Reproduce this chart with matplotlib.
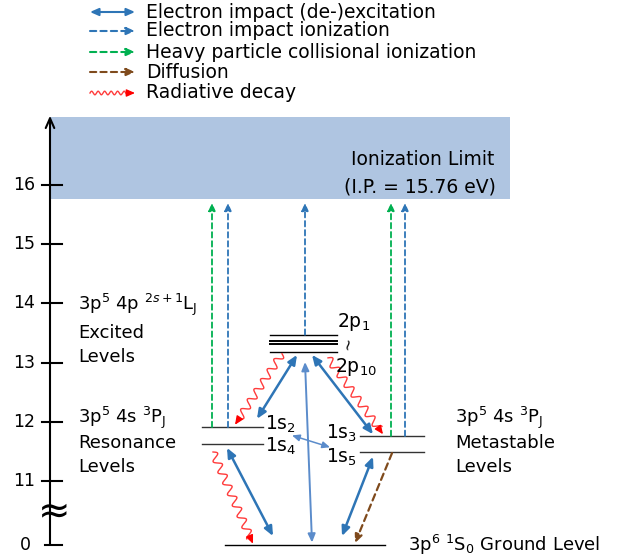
import numpy as np
import matplotlib.pyplot as plt
from matplotlib.patches import Rectangle

plt.rcParams['font.family'] = ['DejaVu Sans']
plt.rcParams['mathtext.fontset'] = 'dejavusans'

# ---- data (eV) ----
ion_limit = 15.76
band_top = 17.15
ground_pos = 9.92          # where 0 eV sits on the broken axis
tick_vals = [0, 11, 12, 13, 14, 15, 16]
p_levels = [13.47, 13.36, 13.32, 13.18]        # 2p1 ... 2p10
res_levels = [11.91, 11.63]                     # 1s2, 1s4
meta_levels = [11.76, 11.49]                    # 1s3, 1s5

# transitions: (x0, E0, x1, E1)
excitation = [(257, 12.05, 297, 13.13), (312, 13.13, 373, 11.79),
              (227, 11.56, 273, 0.15), (373, 11.41, 342, 0.15)]
excitation_thin = [(292, 11.77, 330, 11.57), (305, 13.01, 312, 0.04)]
e_ionization = [(228, 11.91, 228, 15.70), (305, 13.47, 305, 15.70),
                (405, 11.76, 405, 15.70)]
hp_ionization = [(212, 11.91, 212, 15.70), (391, 11.76, 391, 15.70)]
diffusion = [(392, 11.47, 355, 0.03)]
radiative = [(282, 13.15, 235, 11.95), (328, 13.08, 383, 11.79),
             (213, 11.49, 253, 0.02)]

BLUE = '#2e75b6'
LBLUE = '#5b8ccb'
GREEN = '#00b050'
BROWN = '#7f4a1c'
RED = '#ff0000'
S = 59.2   # px per eV


def ypos(e):
    return ground_pos + e if e < 5 else e


def row(py):
    return 16 + (185 - py) / S


fig = plt.figure(figsize=(6.22, 5.6), dpi=100)
ax = fig.add_axes([0, 0, 1, 1])
ax.set_xlim(0, 622)
ax.set_ylim(row(560), row(0))
ax.axis('off')


def arrow(x0, y0, x1, y1, color, style='-|>', lw=1.8, ls='-', ms=11):
    ax.annotate('', xy=(x1, y1), xytext=(x0, y0),
                arrowprops=dict(arrowstyle=style + ',head_length=0.5,head_width=0.22',
                                color=color, lw=lw, linestyle=ls,
                                shrinkA=0, shrinkB=0, mutation_scale=ms))


def wavy(x0, y0, x1, y1, amp=3.8, lam=12):
    p0 = np.array([x0, y0 * S])
    p1 = np.array([x1, y1 * S])
    d = p1 - p0
    L = np.hypot(*d)
    u = d / L
    n = np.array([-u[1], u[0]])
    t = np.linspace(0, L - 7, 300)
    pts = p0 + np.outer(t, u) + np.outer(amp * np.sin(2 * np.pi * t / lam), n)
    ax.plot(pts[:, 0], pts[:, 1] / S, color='#ff3b3b', lw=1)
    a = p0 + (L - 8) * u
    arrow(a[0], a[1] / S, x1, y1, RED, lw=1, ms=10)


# ionization band
ax.add_patch(Rectangle((50, ion_limit), 460, band_top - ion_limit,
                       facecolor='#afc5e1', edgecolor='none', zorder=0))

# energy axis
arrow(50, ground_pos, 50, 17.17, 'black', style='->', lw=1.5, ms=14)
for v in tick_vals:
    y = ypos(v)
    x0 = 45 if v == 0 else 42
    ax.plot([x0, 62], [y, y], color='black', lw=1.5)
    ax.text(31 if v == 0 else 35, y, str(v), ha='right', va='center', fontsize=12.5)
ax.text(54, row(511), '≈', ha='center', va='center', fontsize=28)

# levels
for e in p_levels:
    ax.plot([270, 337], [e, e], color='black', lw=1.4 if 13.3 < e < 13.4 else 1)
for e in res_levels:
    ax.plot([202, 263], [e, e], color='#333333', lw=1)
for e in meta_levels:
    ax.plot([360, 424], [e, e], color='#333333', lw=1)
ax.plot([225, 385], [ground_pos, ground_pos], color='black', lw=1)

# transitions
for x0, e0, x1, e1 in e_ionization:
    arrow(x0, ypos(e0), x1, ypos(e1), BLUE, lw=1.3, ls=(0, (3, 2)), ms=9)
for x0, e0, x1, e1 in hp_ionization:
    arrow(x0, ypos(e0), x1, ypos(e1), GREEN, lw=1.3, ls=(0, (3, 2)), ms=9)
for x0, e0, x1, e1 in excitation:
    arrow(x0, ypos(e0), x1, ypos(e1), BLUE, style='<|-|>', lw=1.8)
arrow(*[ypos(v) if i % 2 else v for i, v in enumerate(excitation_thin[0])],
      LBLUE, style='<|-|>', lw=1.1, ms=9)
arrow(*[ypos(v) if i % 2 else v for i, v in enumerate(excitation_thin[1])],
      LBLUE, style='<|-|>', lw=1.4, ms=10)
for x0, e0, x1, e1 in diffusion:
    arrow(x0, ypos(e0), x1, ypos(e1), BROWN, lw=1.6, ls=(0, (3, 2)), ms=10)
for x0, e0, x1, e1 in radiative:
    wavy(x0, ypos(e0), x1, ypos(e1))

# legend
leg = [('Electron impact (de-)excitation', BLUE, '<|-|>', '-'),
       ('Electron impact ionization', BLUE, '-|>', (0, (3, 2))),
       ('Heavy particle collisional ionization', GREEN, '-|>', (0, (3, 2))),
       ('Diffusion', BROWN, '-|>', (0, (3, 2))),
       ('Radiative decay', RED, 'wavy', '-')]
for (lab, c, st, ls), py in zip(leg, [12, 31, 52, 72, 93]):
    y = row(py)
    if st == 'wavy':
        t = np.linspace(90, 129, 200)
        ax.plot(t, y + 1.8 * np.sin(2 * np.pi * (t - 90) / 6.5) / S, color='#ff3b3b', lw=1)
        arrow(128, y, 135, y, c, lw=1, ms=10)
    else:
        arrow(90, y, 135, y, c, style=st, lw=1.5, ls=ls, ms=10)
    ax.text(146, y, lab, ha='left', va='center', fontsize=13.5)

# labels
fs = 13
ax.text(78, row(305), r'3p$^5$ 4p $^{2s+1}$L$_\mathrm{J}$', fontsize=fs, va='center')
ax.text(78, row(333), 'Excited', fontsize=fs, va='center')
ax.text(78, row(357), 'Levels', fontsize=fs, va='center')
ax.text(78, row(418), r'3p$^5$ 4s $^3$P$_\mathrm{J}$', fontsize=fs, va='center')
ax.text(78, row(443), 'Resonance', fontsize=fs, va='center')
ax.text(78, row(467), 'Levels', fontsize=fs, va='center')
ax.text(455, row(418), r'3p$^5$ 4s $^3$P$_\mathrm{J}$', fontsize=fs, va='center')
ax.text(455, row(443), 'Metastable', fontsize=fs, va='center')
ax.text(455, row(467), 'Levels', fontsize=fs, va='center')
ax.text(337, row(322), r'2p$_1$', fontsize=13.5, va='center')
ax.text(348, row(344), '~', fontsize=11, ha='center', va='center', rotation=80)
ax.text(335, row(367), r'2p$_{10}$', fontsize=13.5, va='center')
ax.text(265, row(424), r'1s$_2$', fontsize=13.5, va='center')
ax.text(265, row(446), r'1s$_4$', fontsize=13.5, va='center')
ax.text(326, row(433), r'1s$_3$', fontsize=13.5, va='center')
ax.text(326, row(457), r'1s$_5$', fontsize=13.5, va='center')
ax.text(494, row(160), 'Ionization Limit', fontsize=13.5, ha='right', va='center')
ax.text(496, row(187), '(I.P. = 15.76 eV)', fontsize=13.5, ha='right', va='center')
ax.text(408, row(545), r'3p$^6$ $^1$S$_0$ Ground Level', fontsize=13, va='center')

fig.savefig('out.png', dpi=100)
